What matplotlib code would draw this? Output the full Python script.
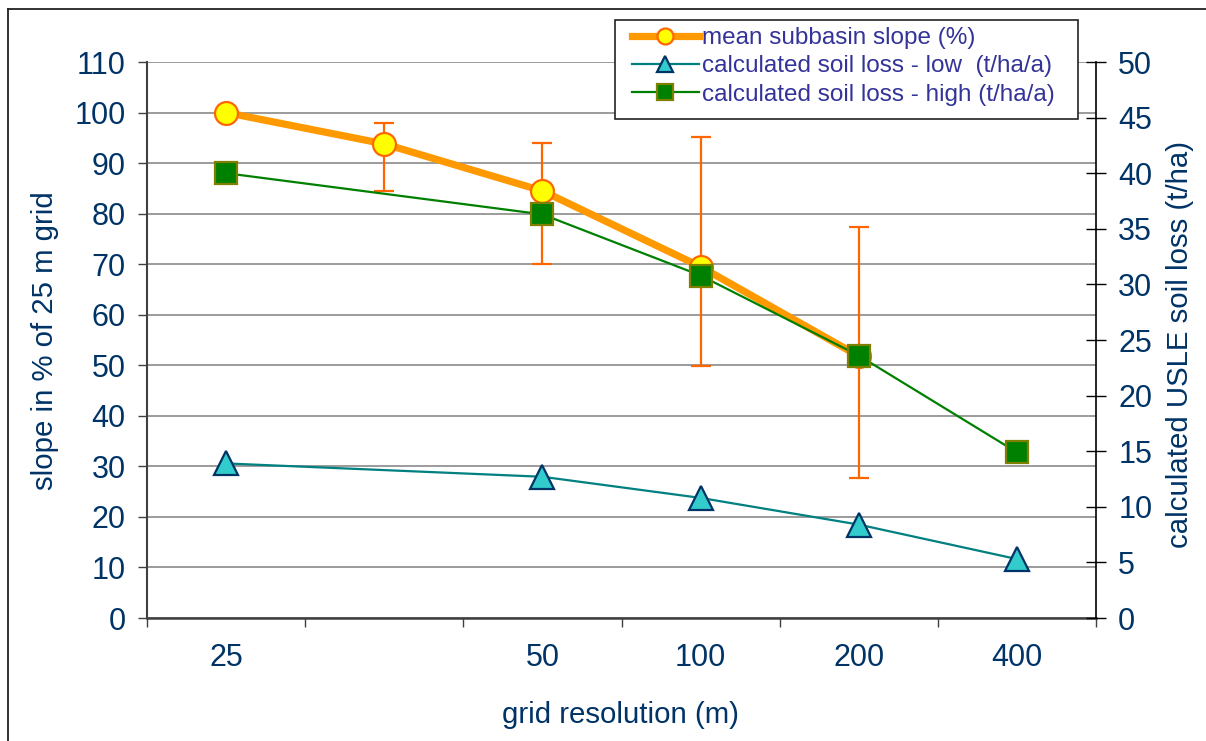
import numpy as np
import matplotlib
matplotlib.use("Agg")
import matplotlib.pyplot as plt
from matplotlib.lines import Line2D
from matplotlib.patches import Rectangle

plt.rcParams['font.family'] = ['Liberation Sans', 'DejaVu Sans']

# grid resolution categories (second class has no label on the axis)
categories = ["25", "", "50", "100", "200", "400"]

# mean subbasin slope in % of the 25 m grid (left axis)
slope_mean = [100.0, 93.8, 84.5, 69.5, 51.8, np.nan]
slope_lower = [np.nan, 84.5, 70.0, 49.8, 27.6, np.nan]
slope_upper = [np.nan, 97.9, 93.9, 95.2, 77.3, np.nan]

# calculated USLE soil loss in t/ha/a (right axis)
soil_low = [13.9, np.nan, 12.7, 10.8, 8.4, 5.3]
soil_high = [40.0, np.nan, 36.3, 30.8, 23.6, 14.9]

left_ticks = list(range(0, 111, 10))
right_ticks = list(range(0, 51, 5))

NAVY = "#003366"
LEGEND_TXT = "#333399"
TICK_FS = 22
TITLE_FS = 21.2

W, H = 1206, 741
fig = plt.figure(figsize=(W / 100, H / 100), dpi=100)
ax = fig.add_axes([147 / W, 1 - 618 / H, 949 / W, 556 / H])
ax2 = ax.twinx()

x = np.arange(len(categories))
mean = np.array(slope_mean)
lo = np.array(slope_lower)
hi = np.array(slope_upper)
low = np.array(soil_low)
high = np.array(soil_high)

# error bars of the slope series
m = ~np.isnan(lo)
ax.errorbar(x[m], mean[m], yerr=[mean[m] - lo[m], hi[m] - mean[m]],
            fmt="none", ecolor="#FF6600", elinewidth=1.6, capsize=7,
            capthick=1.6, zorder=2)

mm = ~np.isnan(mean)
l_mean, = ax.plot(x[mm], mean[mm], color="#FF9900", lw=5.2, marker="o",
                  ms=16.5, mfc="#FFFF00", mec="#FF6600", mew=1.6,
                  zorder=3, label="mean subbasin slope (%)")

ml = ~np.isnan(low)
l_low, = ax2.plot(x[ml], low[ml], color="#008080", lw=1.6, marker="^",
                  ms=17, mfc="#33CCCC", mec=NAVY, mew=1.6, zorder=3,
                  label="calculated soil loss - low  (t/ha/a)")
mh = ~np.isnan(high)
l_high, = ax2.plot(x[mh], high[mh], color="#008000", lw=1.6, marker="s",
                   ms=16, mfc="#008000", mec="#808000", mew=1.6, zorder=4,
                   label="calculated soil loss - high (t/ha/a)")

# axes ranges and ticks
ax.set_xlim(-0.5, len(categories) - 0.5)
ax.set_ylim(0, 110)
ax2.set_ylim(0, 50)
ax.set_yticks(left_ticks)
ax2.set_yticks(right_ticks)
ax.set_xticks(x)
ax.set_xticklabels(categories)
ax.set_xticks(np.arange(len(categories) + 1) - 0.5, minor=True)

ax.tick_params(axis="x", which="major", length=0, pad=18,
               labelsize=TICK_FS, labelcolor=NAVY)
ax.tick_params(axis="x", which="minor", length=6.5, width=1.0,
               color="#404040", direction="out")
ax.tick_params(axis="y", which="major", length=6.5, width=1.0,
               color="#404040", direction="out", pad=9,
               labelsize=TICK_FS, labelcolor=NAVY)
ax2.tick_params(axis="y", which="major", length=14, width=1.0,
                color="black", direction="inout", pad=9,
                labelsize=TICK_FS, labelcolor=NAVY)

ax.yaxis.grid(True, color="#808080", lw=1.1)
ax.set_axisbelow(True)

for sp in ("top", "right"):
    ax.spines[sp].set_visible(False)
ax.spines["left"].set_color("#404040")
ax.spines["left"].set_linewidth(1.5)
ax.spines["bottom"].set_color("#404040")
ax.spines["bottom"].set_linewidth(1.8)
for sp in ("top", "left", "bottom"):
    ax2.spines[sp].set_visible(False)
ax2.spines["right"].set_color("black")
ax2.spines["right"].set_linewidth(1.2)

# axis titles
fig.text(45 / W, 1 - 341 / H, "slope in % of 25 m grid", rotation=90,
         ha="center", va="center", fontsize=TITLE_FS, color=NAVY)
fig.text(1180 / W, 1 - 344 / H, "calculated USLE soil loss (t/ha)",
         rotation=90, ha="center", va="center", fontsize=TITLE_FS,
         color=NAVY)
fig.text(620 / W, 1 - 715 / H, "grid resolution (m)", ha="center",
         va="center", fontsize=TITLE_FS, color=NAVY)

# legend box and entries
fig.add_artist(Rectangle((615 / W, 1 - 119 / H), 463 / W, 99 / H,
                         transform=fig.transFigure, facecolor="white",
                         edgecolor="#222222", lw=1.2, zorder=4))
leg = fig.legend(handles=[l_mean, l_low, l_high], loc="upper left",
                 bbox_to_anchor=(632 / W, 1 - 27 / H),
                 bbox_transform=fig.transFigure, fontsize=17.5,
                 frameon=False, borderpad=0, labelspacing=0.26,
                 handlelength=2.75, handletextpad=0.15, borderaxespad=0)
leg.set_zorder(5)
for t in leg.get_texts():
    t.set_color(LEGEND_TXT)
for h, s in zip(leg.legend_handles, (11.5, 11.5, 11)):
    h.set_markersize(s)

# chart frame
fig.add_artist(Line2D([8 / W, 1], [1 - 9 / H, 1 - 9 / H],
                      transform=fig.transFigure, color="#222222", lw=1.3))
fig.add_artist(Line2D([8 / W, 8 / W], [0, 1 - 9 / H],
                      transform=fig.transFigure, color="#222222", lw=1.3))

fig.savefig("out.png", dpi=100)
